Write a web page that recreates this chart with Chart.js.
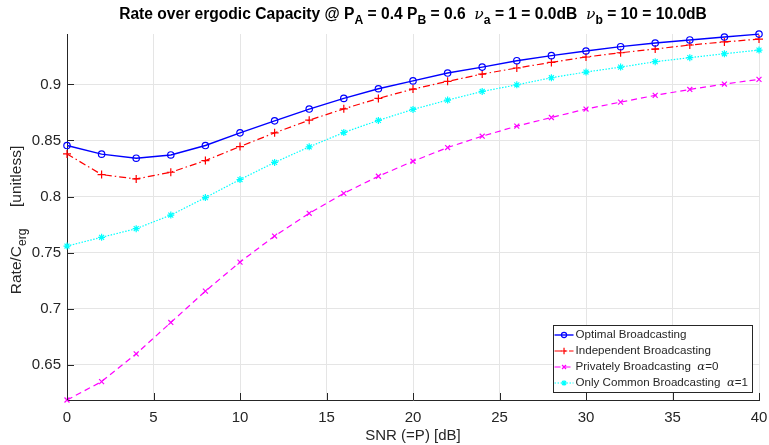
<!DOCTYPE html>
<html><head><meta charset="utf-8">
<script src="https://cdn.jsdelivr.net/npm/chart.js@4.4.0/dist/chart.umd.min.js"></script>
<style>html,body{margin:0;padding:0;background:#fff}#wrap{width:769px;height:445px;position:relative}</style>
</head><body><div id="wrap"><canvas id="c" width="769" height="445"></canvas></div>
<script>
// ---- data ----
const snr = [0,2,4,6,8,10,12,14,16,18,20,22,24,26,28,30,32,34,36,38,40];
const optimal     = [0.8455,0.8378,0.8342,0.8371,0.8455,0.8568,0.8675,0.8780,0.8875,0.8961,0.9031,0.9101,0.9154,0.9211,0.9256,0.9297,0.9336,0.9369,0.9396,0.9422,0.9448];
const independent = [0.8380,0.8196,0.8157,0.8217,0.8321,0.8446,0.8568,0.8681,0.8782,0.8875,0.8958,0.9027,0.9092,0.9146,0.9196,0.9244,0.9282,0.9315,0.9351,0.9378,0.9404];
const privately   = [0.6187,0.6351,0.6598,0.6878,0.7157,0.7416,0.7648,0.7851,0.8029,0.8181,0.8315,0.8437,0.8538,0.8628,0.8705,0.8780,0.8842,0.8902,0.8955,0.9003,0.9045];
const commonOnly  = [0.7559,0.7637,0.7714,0.7835,0.7991,0.8152,0.8304,0.8443,0.8571,0.8679,0.8777,0.8860,0.8937,0.8996,0.9059,0.9110,0.9154,0.9202,0.9238,0.9273,0.9306];
const seriesLabels = ['Optimal Broadcasting','Independent Broadcasting','Privately Broadcasting  \u03b1=0','Only Common Broadcasting  \u03b1=1'];
const xTicks = [0,5,10,15,20,25,30,35,40];
const yTicks = [0.65,0.7,0.75,0.8,0.85,0.9];
const xLimits = [0,40];
const yLimits = [0.6187,0.9449];
const titleParts = [
  ['Rate over ergodic Capacity @ P','n'],['A','s'],[' = 0.4 P','n'],['B','s'],[' = 0.6  ','n'],
  ['\u03bd','g'],['a','s'],[' = 1 = 0.0dB  ','n'],['\u03bd','g'],['b','s'],[' = 10 = 10.0dB','n']];
const yTitleParts = [['Rate/C','n'],['erg','s'],['     [unitless]','n']];
const xTitle = 'SNR (=P) [dB]';

const AX = '#262626';
const SANS = '"Liberation Sans", Arial, Helvetica, sans-serif';

function pts(ys){ return snr.map((x,i)=>({x:x,y:ys[i]})); }

function drawRich(ctx, parts, x, y, size, bold, align){
  const fontFor = (st)=>{
    if(st==='g') return 'italic '+size+'px "DejaVu Serif", "Liberation Serif", serif';
    if(st==='s') return (bold?'bold ':'')+(size*0.78)+'px '+SANS;
    return (bold?'bold ':'')+size+'px '+SANS;
  };
  let w = 0;
  const widths = parts.map(p=>{ ctx.font = fontFor(p[1]); const m = ctx.measureText(p[0]).width; w += m; return m; });
  let cx = align==='center' ? x - w/2 : x;
  ctx.textBaseline = 'alphabetic'; ctx.textAlign = 'left';
  parts.forEach((p,i)=>{
    ctx.font = fontFor(p[1]);
    const dy = p[1]==='s' ? size*0.33 : 0;
    ctx.fillText(p[0], cx, y+dy);
    cx += widths[i];
  });
  return w;
}

const decorations = {
  id:'decorations',
  afterDraw(chart){
    const ctx = chart.ctx, ca = chart.chartArea;
    const xs = chart.scales.x, ys = chart.scales.y;
    ctx.save();
    // inward tick marks
    ctx.strokeStyle = AX; ctx.lineWidth = 1;
    ctx.beginPath();
    xTicks.forEach(v=>{ const px = Math.round(xs.getPixelForValue(v))+0.5; ctx.moveTo(px, ca.bottom); ctx.lineTo(px, ca.bottom-7); });
    yTicks.forEach(v=>{ const py = Math.round(ys.getPixelForValue(v))+0.5; ctx.moveTo(ca.left, py); ctx.lineTo(ca.left+7, py); });
    ctx.stroke();
    // title
    ctx.fillStyle = '#000';
    drawRich(ctx, titleParts, (ca.left+ca.right)/2, 19, 15.6, true, 'center');
    // y axis title (rotated)
    ctx.save();
    ctx.translate(21, (ca.top+ca.bottom)/2 + 3);
    ctx.rotate(-Math.PI/2);
    ctx.fillStyle = AX;
    drawRich(ctx, yTitleParts, 0, 0, 15.5, false, 'center');
    ctx.restore();
    // legend
    const fs = 11.6;
    const dss = chart.data.datasets;
    const fontN = fs+'px '+SANS;
    const fontG = 'italic '+fs+'px "DejaVu Serif", "Liberation Serif", serif';
    const measure = (t)=>{
      const k = t.indexOf('\u03b1');
      if(k<0){ ctx.font = fontN; return ctx.measureText(t).width; }
      ctx.font = fontN; let w = ctx.measureText(t.slice(0,k)).width + ctx.measureText(t.slice(k+1)).width;
      ctx.font = fontG; w += ctx.measureText('\u03b1').width; return w;
    };
    const maxW = Math.max(...dss.map(d=>measure(d.label)));
    const rowH = 16;
    const bw = 24 + maxW + 3, bh = rowH*dss.length + 3;
    const bx = ca.right - 7 - bw, by = ca.bottom - 8 - bh;
    ctx.fillStyle = '#fff'; ctx.fillRect(bx, by, bw, bh);
    ctx.strokeStyle = AX; ctx.lineWidth = 1; ctx.setLineDash([]);
    ctx.strokeRect(Math.round(bx)+0.5, Math.round(by)+0.5, Math.round(bw), Math.round(bh));
    dss.forEach((d,i)=>{
      const cy = by + 2 + rowH*i + rowH/2;
      ctx.strokeStyle = d.borderColor; ctx.lineWidth = d.borderWidth;
      ctx.setLineDash(d.borderDash || []);
      ctx.beginPath(); ctx.moveTo(bx+2, cy); ctx.lineTo(bx+21, cy); ctx.stroke();
      ctx.setLineDash([]);
      ctx.fillStyle = d.pointBackgroundColor; ctx.strokeStyle = d.borderColor; ctx.lineWidth = 1.2;
      Chart.helpers.drawPoint(ctx, {pointStyle:d.pointStyle, radius:d.pointRadius*0.8, borderWidth:1.2, rotation:0}, bx+11.5, cy);
      // text
      ctx.fillStyle = AX; ctx.textBaseline = 'middle'; ctx.textAlign = 'left';
      const t = d.label, k = t.indexOf('\u03b1');
      let tx = bx + 23;
      if(k<0){ ctx.font = fontN; ctx.fillText(t, tx, cy); }
      else {
        ctx.font = fontN; ctx.fillText(t.slice(0,k), tx, cy); tx += ctx.measureText(t.slice(0,k)).width;
        ctx.font = fontG; ctx.fillText('\u03b1', tx, cy); tx += ctx.measureText('\u03b1').width;
        ctx.font = fontN; ctx.fillText(t.slice(k+1), tx, cy);
      }
    });
    ctx.restore();
  }
};

const ds = (label, data, color, dash, style, radius, width, fill)=>({
  label, data: pts(data), borderColor: color, backgroundColor: color,
  borderWidth: width, borderDash: dash, pointStyle: style, pointRadius: radius,
  pointBorderWidth: 1.2, pointBorderColor: color, pointBackgroundColor: fill,
  pointHoverRadius: radius, tension: 0, clip: false, fill: false
});

const chart = new Chart(document.getElementById('c'), {
  type:'line',
  data:{ datasets:[
    ds(seriesLabels[0], optimal, '#0000ff', [], 'circle', 3.2, 1.4, 'rgba(0,0,0,0)'),
    ds(seriesLabels[1], independent, '#ff0000', [7,3,1.5,3], 'cross', 4, 1.2, '#ff0000'),
    ds(seriesLabels[2], privately, '#ff00ff', [6,4], 'crossRot', 3.5, 1.2, '#ff00ff'),
    ds(seriesLabels[3], commonOnly, '#00ffff', [1.5,1.5], 'star', 3.5, 1.2, '#00ffff')
  ]},
  options:{
    responsive:false, animation:false, devicePixelRatio:1,
    layout:{ padding:{ left:0, right:10, top:34, bottom:0 } },
    plugins:{ legend:{display:false}, title:{display:false}, tooltip:{enabled:false} },
    scales:{
      x:{ type:'linear', min:xLimits[0], max:xLimits[1],
        afterBuildTicks: s=>{ s.ticks = xTicks.map(v=>({value:v})); },
        afterFit: s=>{ s.height = 45; s.paddingLeft = 0; s.paddingRight = 0; },
        ticks:{ color:AX, font:{family:SANS, size:15}, padding:9, maxRotation:0, autoSkip:false },
        grid:{ color:'#e5e5e5', lineWidth:1, drawTicks:false },
        border:{ display:true, color:AX, width:1 },
        title:{ display:true, text:xTitle, color:AX, font:{family:SANS, size:15}, padding:{top:2,bottom:0} }
      },
      y:{ type:'linear', min:yLimits[0], max:yLimits[1],
        afterBuildTicks: s=>{ s.ticks = yTicks.map(v=>({value:v})); },
        afterFit: s=>{ s.width = 67; s.paddingTop = 0; s.paddingBottom = 0; },
        ticks:{ color:AX, font:{family:SANS, size:15}, padding:6, callback:v=>String(+v.toFixed(2)) },
        grid:{ color:'#e5e5e5', lineWidth:1, drawTicks:false },
        border:{ display:true, color:AX, width:1 }
      }
    }
  },
  plugins:[decorations]
});
</script></body></html>
